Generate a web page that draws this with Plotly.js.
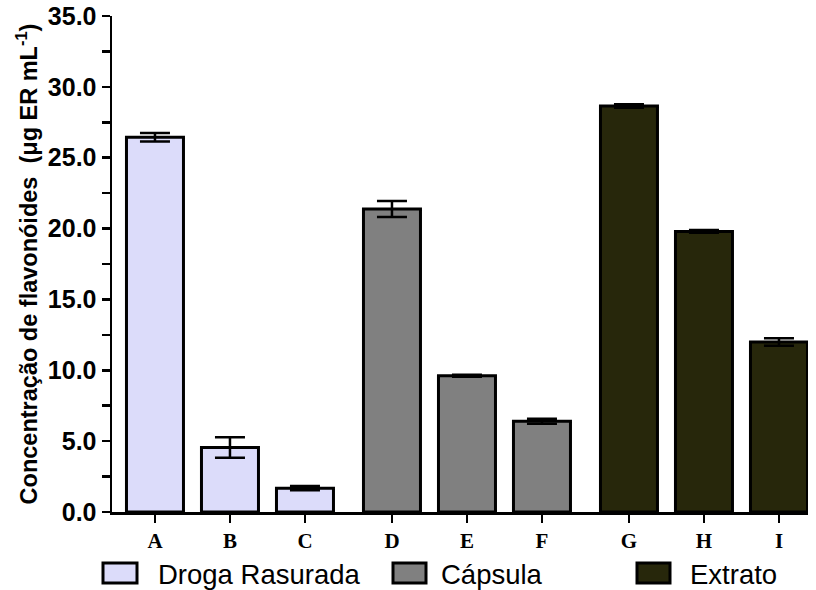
<!DOCTYPE html>
<html>
<head>
<meta charset="utf-8">
<script src="https://cdn.plot.ly/plotly-3.0.1.min.js"></script>
<style>html,body{margin:0;padding:0;background:#fff;}#chart{width:816px;height:590px;}</style>
</head>
<body>
<div id="chart"></div>
<script>
// ---- data ----
const groupNames = ["Droga Rasurada", "Cápsula", "Extrato"];
const groupColors = ["#dcdcfa", "#808080", "#27270b"];
const categoriesDroga = ["A", "B", "C"];
const categoriesCapsula = ["D", "E", "F"];
const categoriesExtrato = ["G", "H", "I"];
const valuesDroga = [26.45, 4.55, 1.68];
const valuesCapsula = [21.38, 9.62, 6.4];
const valuesExtrato = [28.65, 19.8, 12.0];
const errorsDroga = [0.3, 0.72, 0.15];
const errorsCapsula = [0.56, 0.07, 0.18];
const errorsExtrato = [0.12, 0.1, 0.26];
const yTickVals = [0, 5, 10, 15, 20, 25, 30, 35];

const groupsCats = [categoriesDroga, categoriesCapsula, categoriesExtrato];
const groupsVals = [valuesDroga, valuesCapsula, valuesExtrato];
const groupsErr = [errorsDroga, errorsCapsula, errorsExtrato];

const groupGap = 0.16;
const traces = [];
const tickvals = [], ticktext = [];
let idx = 0;
groupsCats.forEach((cats, g) => {
  const xs = cats.map((c, i) => (idx + i) + g * groupGap);
  xs.forEach((x, i) => { tickvals.push(x); ticktext.push(cats[i]); });
  idx += cats.length;
  traces.push({
    type: 'bar', name: groupNames[g], x: xs, y: groupsVals[g], width: 0.76,
    marker: {color: groupColors[g], line: {color: '#000', width: 3}},
    error_y: {type: 'data', array: groupsErr[g], visible: true, color: '#000', thickness: 2.5, width: 15},
    showlegend: false, hoverinfo: 'none'
  });
});

// custom legend (pixel -> paper helpers)
const L = 112, R = 808, T = 16, B = 512;
const px = v => (v - L) / (R - L);
const py = v => (B - v) / (B - T);
const legBoxes = [[103, 137], [393, 426], [637, 670]];
const legText = [156, 439, 688];
const shapes = [], annotations = [];
groupNames.forEach((n, g) => {
  shapes.push({type: 'rect', xref: 'paper', yref: 'paper',
    x0: px(legBoxes[g][0]), x1: px(legBoxes[g][1]), y0: py(583), y1: py(563),
    fillcolor: groupColors[g], line: {color: '#000', width: 3}});
  annotations.push({xref: 'paper', yref: 'paper', x: px(legText[g]), y: py(574),
    xanchor: 'left', yanchor: 'middle', showarrow: false, text: n,
    font: {family: 'Liberation Sans, Arial, sans-serif', size: 27.5, color: '#000'}});
});

const layout = {
  width: 816, height: 590,
  margin: {l: L, r: 816 - R, t: T, b: 590 - B},
  paper_bgcolor: '#fff', plot_bgcolor: '#fff',
  bargap: 0,
  xaxis: {
    range: [-0.573, 8.32 + 0.387], tickvals: tickvals, ticktext: ticktext,
    showline: true, linecolor: '#000', linewidth: 2.5, ticks: 'outside', ticklen: 8,
    tickwidth: 2.5, tickcolor: '#000', showgrid: false, zeroline: false,
    tickfont: {family: 'Liberation Serif, Times New Roman, serif', size: 21, color: '#000', weight: 'bold'}
  },
  yaxis: {
    range: [0, 35], tickvals: yTickVals, tickformat: '.1f',
    showline: true, linecolor: '#000', linewidth: 2.5, ticks: 'outside', ticklen: 8,
    tickwidth: 2.5, tickcolor: '#000', showgrid: false, zeroline: false,
    minor: {dtick: 2.5, ticks: 'outside', ticklen: 8, tickwidth: 2.5, tickcolor: '#000', showgrid: false},
    tickfont: {family: 'Liberation Sans, Arial, sans-serif', size: 25, color: '#000', weight: 'bold'},
    title: {text: 'Concentração de flavonóides\u00a0\u00a0(μg ER mL<sup>-1</sup>)', standoff: 4,
      font: {family: 'Liberation Sans, Arial, sans-serif', size: 23.5, color: '#000', weight: 'bold'}}
  },
  shapes: shapes, annotations: annotations
};

Plotly.newPlot('chart', traces, layout, {displayModeBar: false, staticPlot: true});
</script>
</body>
</html>
